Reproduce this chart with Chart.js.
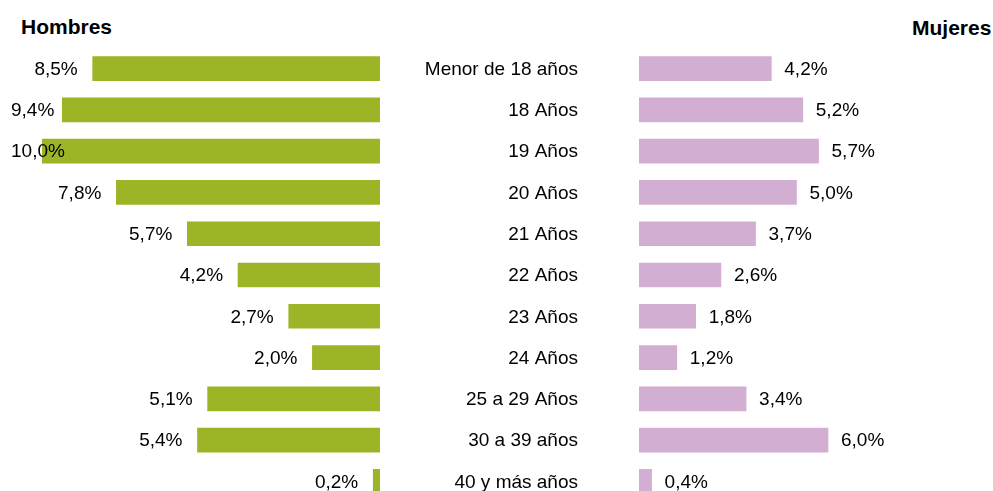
<!DOCTYPE html>
<html>
<head>
<meta charset="utf-8">
<script src="https://cdn.jsdelivr.net/npm/chart.js@4"></script>
<style>
  html, body { margin: 0; padding: 0; background: #fff; }
  body { width: 993px; height: 491px; overflow: hidden; position: relative; font-family: 'Liberation Sans', Arial, sans-serif; }
  .title { position: absolute; font-weight: bold; font-size: 21px; line-height: 21px; color: #000; }
  #leftWrap { position: absolute; left: 0; top: 0; width: 400px; height: 502px; }
  #rightWrap { position: absolute; left: 400px; top: 0; width: 593px; height: 502px; }
</style>
</head>
<body>
<div class="title" style="left:21px;top:16px;">Hombres</div>
<div class="title" style="left:912px;top:17px;">Mujeres</div>
<div id="leftWrap"><canvas id="menChart"></canvas></div>
<div id="rightWrap"><canvas id="womenChart"></canvas></div>
<script>
// Age groups (top to bottom)
var ageLabels = ['Menor de 18 años', '18 Años', '19 Años', '20 Años', '21 Años', '22 Años',
                 '23 Años', '24 Años', '25 a 29 Años', '30 a 39 años', '40 y más años'];
// Share of each group, in %
var menValues   = [8.5, 9.4, 10.0, 7.8, 5.7, 4.2, 2.7, 2.0, 5.1, 5.4, 0.2];
var womenValues = [4.2, 5.2, 5.7, 5.0, 3.7, 2.6, 1.8, 1.2, 3.4, 6.0, 0.4];

var LABEL_FONT = '19px "Liberation Sans", Arial, sans-serif';

function fmt(v) {
  return v.toFixed(1).replace('.', ',') + '%';
}

// Value labels next to bar ends, plus the age labels for the right chart
var valueLabels = {
  id: 'valueLabels',
  afterDatasetsDraw: function(chart, args, opts) {
    var ctx = chart.ctx;
    var meta = chart.getDatasetMeta(0);
    var vals = chart.data.datasets[0].data;
    ctx.save();
    ctx.font = LABEL_FONT;
    ctx.fillStyle = '#000';
    ctx.textBaseline = 'middle';
    meta.data.forEach(function(bar, i) {
      var txt = fmt(vals[i]);
      var w = ctx.measureText(txt).width;
      var tx;
      if (opts.side === 'left') {
        tx = Math.max(bar.x - 15 - w, 11);
      } else {
        tx = bar.x + 13;
      }
      ctx.textAlign = 'left';
      ctx.fillText(txt, tx, bar.y + 1);

      if (opts.categories) {
        ctx.textAlign = 'right';
        ctx.fillText(chart.data.labels[i], chart.chartArea.left - 61, bar.y + 1);
      }
    });
    ctx.restore();
  }
};

var commonOpts = {
  indexAxis: 'y',
  responsive: true,
  maintainAspectRatio: false,
  animation: false,
  events: []
};

new Chart(document.getElementById('menChart').getContext('2d'), {
  type: 'bar',
  data: {
    labels: ageLabels,
    datasets: [{
      data: menValues,
      backgroundColor: '#9cb526',
      borderWidth: 0,
      barThickness: 24
    }]
  },
  options: Object.assign({}, commonOpts, {
    layout: { padding: { left: 42, right: 20, top: 48, bottom: 0 } },
    plugins: {
      legend: { display: false },
      tooltip: { enabled: false },
      valueLabels: { side: 'left' }
    },
    scales: {
      x: { display: false, reverse: true, min: 0, max: 10 },
      y: { display: false }
    }
  }),
  plugins: [valueLabels]
});

new Chart(document.getElementById('womenChart').getContext('2d'), {
  type: 'bar',
  data: {
    labels: ageLabels,
    datasets: [{
      data: womenValues,
      backgroundColor: '#d3aed3',
      borderWidth: 0,
      barThickness: 24
    }]
  },
  options: Object.assign({}, commonOpts, {
    layout: { padding: { left: 239, right: 39, top: 48, bottom: 0 } },
    plugins: {
      legend: { display: false },
      tooltip: { enabled: false },
      valueLabels: { side: 'right', categories: true }
    },
    scales: {
      x: { display: false, min: 0, max: 10 },
      y: { display: false }
    }
  }),
  plugins: [valueLabels]
});
</script>
</body>
</html>
